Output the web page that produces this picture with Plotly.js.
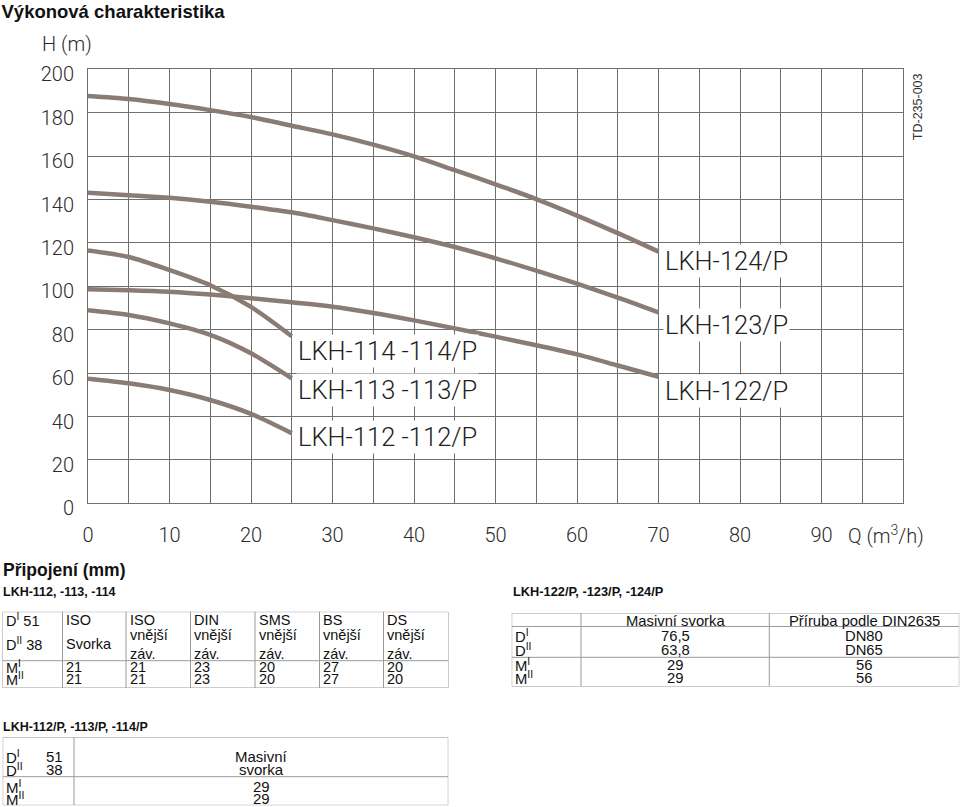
<!DOCTYPE html>
<html>
<head>
<meta charset="utf-8">
<script src="https://cdn.plot.ly/plotly-3.0.1.min.js"></script>
<style>html,body{margin:0;padding:0;background:#fff}#chart{width:960px;height:807px}</style>
</head>
<body>
<div id="chart"></div>
<script>
"use strict"
// Q (m3/h) and H (m)
var qSmall = [0, 5, 10, 15, 20, 25];
var qLarge = [0, 5, 10, 15, 20, 25, 30, 35, 40, 45, 50, 55, 60, 65, 70];
var h114 = [116.5, 113.5, 107.5, 100.5, 90.5, 77];
var h113 = [89, 86.8, 82.9, 77.6, 69.1, 57.6];
var h112 = [57.4, 55.3, 52.2, 47.6, 41.2, 32.3];
var h124 = [187.7, 186.3, 184, 181.2, 178, 174, 170, 165.3, 159.9, 153.5, 147, 140.2, 132.6, 124.5, 116];
var h123 = [143.1, 142, 140.8, 139, 136.7, 134.1, 130.5, 126.7, 122.6, 118.1, 112.9, 107.2, 101.2, 94.8, 88];
var h122 = [98.6, 98.2, 97.5, 96.2, 94.5, 92.6, 90.6, 87.7, 84.3, 80.6, 76.8, 72.8, 68.6, 63.5, 58.3];
var qTicks = [0, 10, 20, 30, 40, 50, 60, 70, 80, 90];
var qGrid = [5, 15, 25, 35, 45, 55, 65, 75, 85, 95];
var hTicks = [0, 20, 40, 60, 80, 100, 120, 140, 160, 180, 200];
var curveNames = ['LKH-114 -114/P', 'LKH-113 -113/P', 'LKH-112 -112/P', 'LKH-124/P', 'LKH-123/P', 'LKH-122/P'];

// tables
var rowLabels = ['D<sup>I</sup>', 'D<sup>II</sup>', 'M<sup>I</sup>', 'M<sup>II</sup>'];
var t1Diam = [51, 38];
var t1Conn = ['ISO', 'ISO', 'DIN', 'SMS', 'BS', 'DS'];
var t1Kind = ['Svorka', 'vnější', 'vnější', 'vnější', 'vnější', 'vnější'];
var t1Thread = ['', 'záv.', 'záv.', 'záv.', 'záv.', 'záv.'];
var t1MI = [21, 21, 23, 20, 27, 20];
var t1MII = [21, 21, 23, 20, 27, 20];
var t2Heads = ['Masivní svorka', 'Příruba podle DIN2635'];
var t2DI = ['76,5', 'DN80'];
var t2DII = ['63,8', 'DN65'];
var t2MI = [29, 56];
var t2MII = [29, 56];
var t3Diam = [51, 38];
var t3Kind = ['Masivní', 'svorka'];
var t3M = [29, 29];

var W = 960, H = 807;
var curveColor = 'rgb(138,124,116)';
var gridColor = '#6f6f6f';
var ruleColor = '#9a9a9a';
var thin = {family: 'Roboto, Liberation Sans, sans-serif', weight: 300, color: '#2b2b2b'};
var sans = 'Liberation Sans, Arial, sans-serif';

function f(o) { return Object.assign({}, thin, o); }

var data = [];
[h114, h113, h112].forEach(function (h) {
  data.push({x: qSmall, y: h, type: 'scatter', mode: 'lines', hoverinfo: 'skip',
    line: {color: curveColor, width: 4.5, shape: 'spline', smoothing: 0.8}});
});
[h124, h123, h122].forEach(function (h) {
  data.push({x: qLarge, y: h, type: 'scatter', mode: 'lines', hoverinfo: 'skip',
    line: {color: curveColor, width: 4.5, shape: 'spline', smoothing: 0.8}});
});

var layout = {
  width: W, height: H,
  margin: {l: 0, r: 0, t: 0, b: 0},
  paper_bgcolor: '#fff', plot_bgcolor: '#fff',
  showlegend: false,
  title: {text: 'Výkonová charakteristika', x: 1.5 / W, xanchor: 'left', xref: 'container',
    y: 1 - 12 / H, yanchor: 'middle', yref: 'container',
    font: {family: sans, size: 18.5, weight: 700, color: '#111'}},
  xaxis: {domain: [88 / W, 903 / W], range: [0, 100], tickmode: 'array', tickvals: qTicks,
    minor: {tickmode: 'array', tickvals: qGrid, showgrid: true, gridcolor: gridColor, gridwidth: 1, ticks: ''},
    ticks: '', showgrid: true, gridcolor: gridColor, gridwidth: 1, zeroline: false,
    showline: true, mirror: true, linecolor: gridColor, linewidth: 1,
    tickfont: f({size: 20}), ticklabelstandoff: 14, fixedrange: true},
  yaxis: {domain: [1 - 503.3 / H, 1 - 69.3 / H], range: [0, 200], tickmode: 'array', tickvals: hTicks,
    ticks: '', showgrid: true, gridcolor: gridColor, gridwidth: 1, zeroline: false,
    showline: true, mirror: true, linecolor: gridColor, linewidth: 1,
    tickfont: f({size: 20}), ticklabelstandoff: 9, ticklabelshift: 5, fixedrange: true},
  annotations: [],
  shapes: []
};

// curve labels
var labelPos = [[25.5, 70.3], [25.5, 52], [25.5, 30.4], [70.6, 111.8], [70.6, 82.3], [70.6, 51.7]];
curveNames.forEach(function (name, i) {
  layout.annotations.push({text: name, x: labelPos[i][0], y: labelPos[i][1], xref: 'x', yref: 'y',
    xanchor: 'left', yanchor: 'middle', showarrow: false, bgcolor: '#fff', borderpad: 1,
    font: f({size: 25.5, color: '#222'})});
});

// texts placed in page pixels
function pageText(text, xPx, yPx, xanchor, font, extra) {
  layout.annotations.push(Object.assign({text: text, x: xPx / W, y: 1 - yPx / H, xref: 'paper', yref: 'paper',
    xanchor: xanchor, yanchor: 'middle', showarrow: false, font: font}, extra || {}));
}
pageText('H (m)', 67, 44, 'center', f({size: 20}));
pageText('Q (m<sup>3</sup>/h)', 886, 535, 'center', f({size: 20}));
pageText('TD-235-003', 917.5, 106.7, 'center', {family: sans, size: 12.5, color: '#333'}, {textangle: -90});

function heading(text, xPx, yPx, size) {
  pageText(text, xPx, yPx, 'left', {family: sans, size: size, weight: 700, color: '#111'});
}
heading('Připojení (mm)', 1, 570, 17.5);
heading('LKH-112, -113, -114', 1, 591.5, 12.5);
heading('LKH-122/P, -123/P, -124/P', 510.5, 591.5, 12.8);
heading('LKH-112/P, -113/P, -114/P', 1, 726.5, 12.5);

// table helper: each table gets its own pixel-scaled axis pair
function makeTable(n, left, top, widths, height, rules) {
  var width = widths.reduce(function (a, b) { return a + b; }, 0);
  var xa = 'x' + n, ya = 'y' + n;
  layout['xaxis' + n] = {domain: [left / W, (left + width) / W], range: [0, width], visible: false,
    fixedrange: true, anchor: ya};
  layout['yaxis' + n] = {domain: [1 - (top + height) / H, 1 - top / H], range: [height, 0], visible: false,
    fixedrange: true, anchor: xa};
  data.push({x: [], y: [], type: 'scatter', xaxis: xa, yaxis: ya, hoverinfo: 'skip'});
  var line = {color: ruleColor, width: 1};
  layout.shapes.push({type: 'rect', xref: xa, yref: ya, x0: 0, x1: width, y0: 0, y1: height, line: line});
  var acc = 0, edges = [0];
  widths.forEach(function (w, i) {
    acc += w;
    edges.push(acc);
    if (i < widths.length - 1) {
      layout.shapes.push({type: 'line', xref: xa, yref: ya, x0: acc, x1: acc, y0: 0, y1: height, line: line});
    }
  });
  rules.forEach(function (r) {
    layout.shapes.push({type: 'line', xref: xa, yref: ya, x0: 0, x1: width, y0: r, y1: r, line: line});
  });
  return {
    put: function (text, col, y, align, size, dx) {
      var x = align === 'left' ? edges[col] + 2.5 : align === 'right' ? edges[col + 1] - (dx || 2.5) : (edges[col] + edges[col + 1]) / 2;
      layout.annotations.push({text: String(text), x: x, y: y, xref: xa, yref: ya, xanchor: align,
        yanchor: 'middle', showarrow: false, borderpad: 0,
        font: {family: sans, size: size, color: '#111'}});
    }
  };
}

// table 1: LKH-112, -113, -114
var t1 = makeTable(2, 2.5, 611.7, [60, 63.5, 64.5, 64.5, 64.5, 64, 65], 76.3, [49]);
var s1 = 14.5;
t1.put(rowLabels[0] + ' ' + t1Diam[0], 0, 8.6, 'left', s1);
t1.put(rowLabels[1] + ' ' + t1Diam[1], 0, 32, 'left', s1);
t1.put(rowLabels[2], 0, 55, 'left', s1);
t1.put(rowLabels[3], 0, 67, 'left', s1);
t1Conn.forEach(function (c, i) {
  t1.put(c, i + 1, 8.6, 'left', s1);
  if (t1Thread[i]) {
    t1.put(t1Kind[i], i + 1, 23.5, 'left', s1);
    t1.put(t1Thread[i], i + 1, 42.5, 'left', s1);
  } else {
    t1.put(t1Kind[i], i + 1, 32, 'left', s1);
  }
  t1.put(t1MI[i], i + 1, 55, 'left', s1);
  t1.put(t1MII[i], i + 1, 67, 'left', s1);
});

// table 2: LKH-122/P, -123/P, -124/P
var t2 = makeTable(3, 511.7, 613, [69.3, 188.3, 190], 73.5, [13.5, 44.3]);
var s2 = 14.8;
t2.put(rowLabels[0], 0, 23, 'left', s2);
t2.put(rowLabels[1], 0, 36.5, 'left', s2);
t2.put(rowLabels[2], 0, 52, 'left', s2);
t2.put(rowLabels[3], 0, 65, 'left', s2);
t2Heads.forEach(function (h, i) {
  t2.put(h, i + 1, 7.5, 'center', s2);
  t2.put(t2DI[i], i + 1, 23, 'center', s2);
  t2.put(t2DII[i], i + 1, 36.5, 'center', s2);
  t2.put(t2MI[i], i + 1, 52, 'center', s2);
  t2.put(t2MII[i], i + 1, 65, 'center', s2);
});

// table 3: LKH-112/P, -113/P, -114/P
var t3 = makeTable(4, 2.7, 737.3, [71.3, 374.3], 68, [39.4]);
var s3 = 15;
t3.put(rowLabels[0], 0, 18.7, 'left', s3);
t3.put(rowLabels[1], 0, 31.7, 'left', s3);
t3.put(rowLabels[2], 0, 48.7, 'left', s3);
t3.put(rowLabels[3], 0, 61.5, 'left', s3);
t3.put(t3Diam[0], 0, 18.7, 'right', s3, 10.5);
t3.put(t3Diam[1], 0, 31.7, 'right', s3, 10.5);
t3.put(t3Kind[0], 1, 18.7, 'center', s3);
t3.put(t3Kind[1], 1, 31.7, 'center', s3);
t3.put(t3M[0], 1, 48.7, 'center', s3);
t3.put(t3M[1], 1, 61.5, 'center', s3);

Plotly.newPlot('chart', data, layout, {staticPlot: true});
</script>
</body>
</html>
